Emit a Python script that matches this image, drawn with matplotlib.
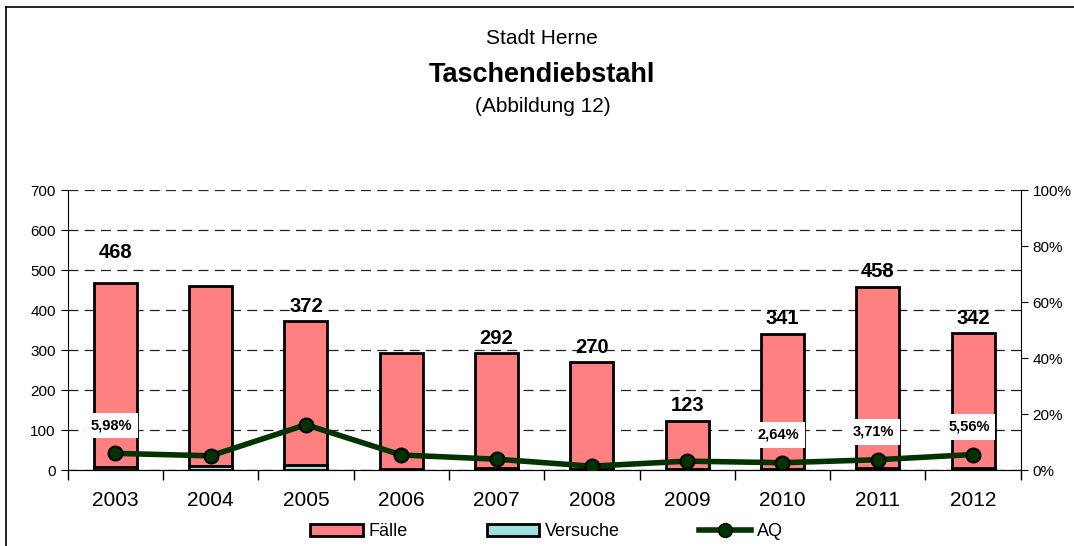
import numpy as np
import matplotlib.pyplot as plt
from matplotlib.lines import Line2D
from matplotlib.patches import Patch

plt.rcParams['font.family'] = ['Liberation Sans', 'DejaVu Sans']

# daten
jahre = ['2003', '2004', '2005', '2006', '2007', '2008', '2009', '2010', '2011', '2012']
faelle = [468, 460, 372, 293, 292, 270, 123, 341, 458, 342]
versuche = [8, 11, 14, 3, 5, 2, 2, 3, 6, 5]
aq = [5.98, 5.1, 16.2, 5.4, 3.9, 1.4, 3.2, 2.64, 3.71, 5.56]

# welche beschriftungen sichtbar sind
faelle_label = [True, False, True, False, True, True, True, True, True, True]
aq_label = [True, False, False, False, False, False, False, True, True, True]

fig = plt.figure(figsize=(10.74, 5.46), dpi=100)
ax = fig.add_axes([0.063, 0.139, 0.8874, 0.513])
ax2 = ax.twinx()

x = np.arange(len(jahre))
ax.bar(x, faelle, width=0.45, color='#FF8080', edgecolor='black', linewidth=2, zorder=3)
ax.bar(x, versuche, width=0.45, color='#A0E0E0', edgecolor='black', linewidth=2, zorder=3)

ax.set_xlim(-0.5, len(jahre) - 0.5)
ax.set_ylim(0, 700)
ax.set_yticks(range(0, 701, 100))
ax.set_xticks(x)
ax.set_xticklabels(jahre, fontsize=15)
ax.set_xticks(np.arange(-0.5, len(jahre)), minor=True)
ax.tick_params(axis='x', which='major', length=0, pad=15)
ax.tick_params(axis='x', which='minor', length=7, width=1, direction='out')
ax.tick_params(axis='y', labelsize=11, length=5, direction='out')
ax.yaxis.grid(True, color='#222222', linestyle=(0, (8, 5)), linewidth=0.9, zorder=0)
ax.set_axisbelow(True)
ax.spines['top'].set_visible(False)
ax.spines['right'].set_visible(False)

# werte über den balken
for i, v in enumerate(faelle):
    if faelle_label[i]:
        off = 15 if i == 0 else 4
        ax.annotate(str(v), (x[i], v), xytext=(0, off), textcoords='offset points',
                    ha='center', va='bottom', fontsize=14.5, fontweight='bold', zorder=6)

# AQ linie
ax2.set_zorder(ax.get_zorder() + 1)
ax2.patch.set_visible(False)
ax2.plot(x, np.array(aq) / 100, color='#003300', linewidth=4, marker='o', markersize=10,
         markerfacecolor='#003300', markeredgecolor='black', markeredgewidth=1.5, zorder=5)
ax2.set_ylim(0, 1)
ax2.set_yticks(np.arange(0, 1.01, 0.2))
ax2.set_yticklabels([f'{int(round(t*100))}%' for t in np.arange(0, 1.01, 0.2)])
ax2.tick_params(axis='y', labelsize=11, length=5, direction='out')
ax2.spines['top'].set_visible(False)
ax2.spines['left'].set_visible(False)

for i, v in enumerate(aq):
    if aq_label[i]:
        ax2.annotate(f'{v:.2f}%'.replace('.', ','), (x[i], v / 100), xytext=(-3, 20),
                     textcoords='offset points', ha='center', va='center', fontsize=10.5,
                     fontweight='bold',
                     bbox=dict(boxstyle='square,pad=0.4', facecolor='white', edgecolor='none'))

# titel
fig.text(0.505, 0.93, 'Stadt Herne', ha='center', va='center', fontsize=15)
fig.text(0.505, 0.862, 'Taschendiebstahl', ha='center', va='center', fontsize=19.5, fontweight='bold')
fig.text(0.505, 0.805, '(Abbildung 12)', ha='center', va='center', fontsize=15)

# legende
handles = [Patch(facecolor='#FF8080', edgecolor='black', linewidth=2),
           Patch(facecolor='#A0E0E0', edgecolor='black', linewidth=2),
           Line2D([], [], color='#003300', linewidth=4, marker='o', markersize=10,
                  markerfacecolor='#003300', markeredgecolor='black')]
fig.legend(handles, ['Fälle', 'Versuche', 'AQ'], loc='center', bbox_to_anchor=(0.509, 0.026),
           ncol=3, frameon=False, fontsize=13, handlelength=2.9, handleheight=0.6,
           handletextpad=0.3, columnspacing=4.4)

# rahmen
fig.add_artist(Line2D([0.0056, 0.0056], [0, 0.987], transform=fig.transFigure, color='black', linewidth=1.2))
fig.add_artist(Line2D([0.0056, 1], [0.987, 0.987], transform=fig.transFigure, color='black', linewidth=1.2))

fig.savefig('out.png', dpi=100)
